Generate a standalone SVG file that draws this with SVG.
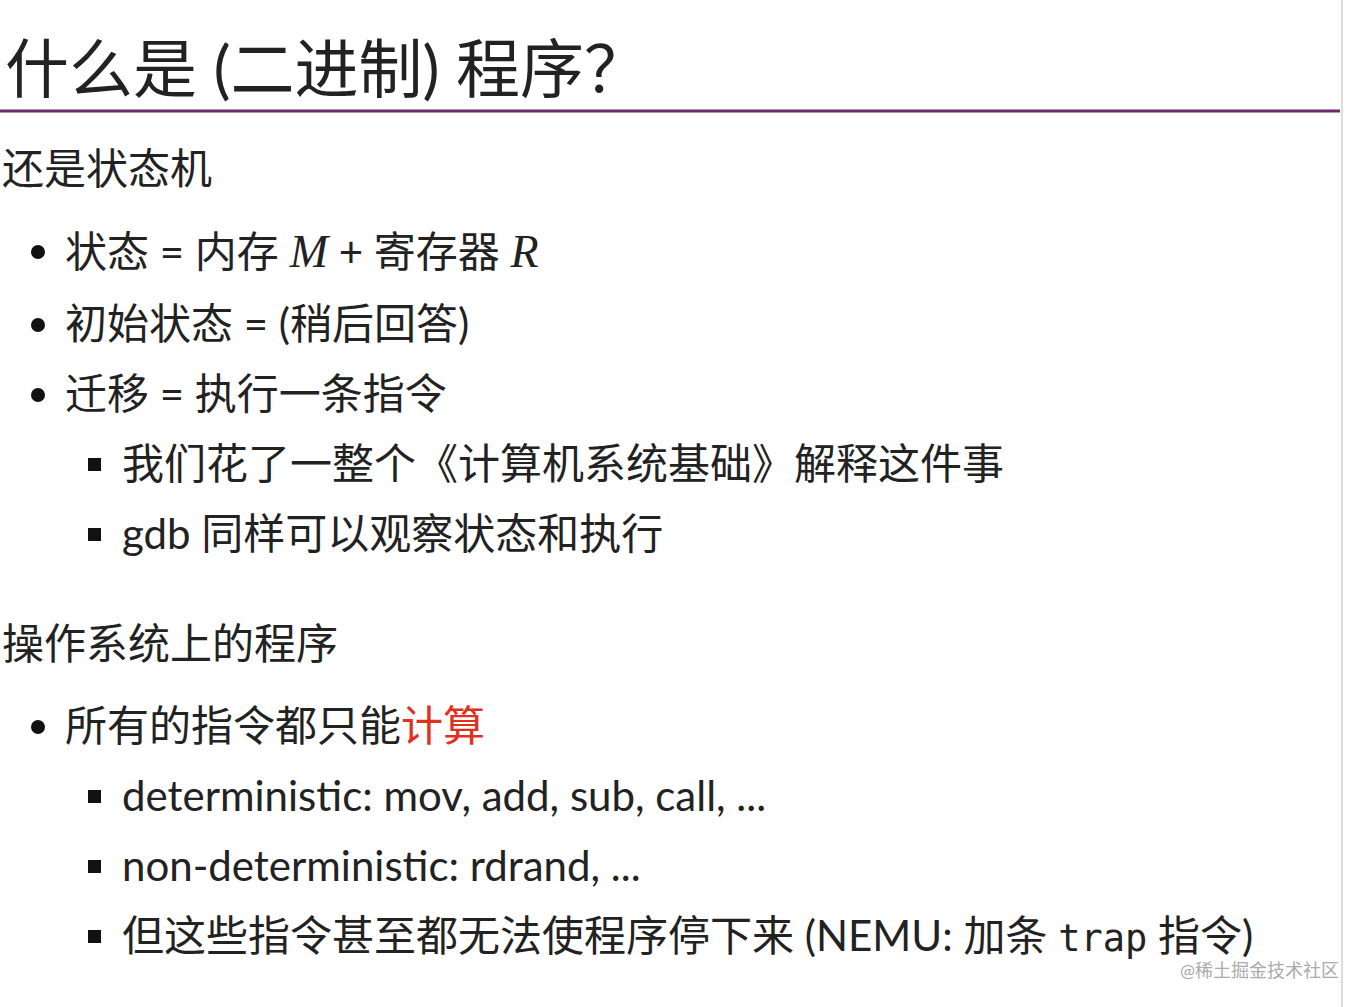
<svg xmlns="http://www.w3.org/2000/svg" width="1368" height="1007" viewBox="0 0 1368 1007">
<style>
text{font-family:Lato,"Noto Sans CJK SC",sans-serif;fill:#222}
.h{font-size:42px}
.b{font-size:42px}
.m{font-family:"Liberation Serif",serif;font-style:italic;font-size:46px}
.mono{font-family:"DejaVu Sans Mono",monospace;font-size:37px}
</style>
<rect width="1368" height="1007" fill="#fff"/>
<line x1="1342" y1="0" x2="1342" y2="1007" stroke="#ddd" stroke-width="2"/>
<text x="5" y="92" font-size="64">什么是 (二进制) 程序？</text>
<line x1="0" y1="111" x2="1340" y2="111" stroke="#6b2a6b" stroke-width="3"/>
<text class="h" x="2" y="184">还是状态机</text>
<g fill="#111">
<circle cx="38" cy="252" r="7"/><circle cx="38" cy="325" r="7"/><circle cx="38" cy="395" r="7"/>
<rect x="88" y="458" width="13" height="13"/><rect x="88" y="528" width="13" height="13"/>
<circle cx="38" cy="727" r="7"/>
<rect x="88" y="790" width="13" height="13"/><rect x="88" y="860" width="13" height="13"/><rect x="88" y="930" width="13" height="13"/>
</g>
<text class="b" x="65" y="267">状态 = 内存 <tspan class="m">M</tspan> + 寄存器 <tspan class="m">R</tspan></text>
<text class="b" x="65" y="339">初始状态 = (稍后回答)</text>
<text class="b" x="65" y="409">迁移 = 执行一条指令</text>
<text class="b" x="122" y="479">我们花了一整个《计算机系统基础》解释这件事</text>
<text class="b" x="122" y="549">gdb 同样可以观察状态和执行</text>
<text class="h" x="2" y="659">操作系统上的程序</text>
<text class="b" x="65" y="741">所有的指令都只能<tspan style="fill:#e0301e">计算</tspan></text>
<text class="b" x="122" y="811">deterministic: mov, add, sub, call, ...</text>
<text class="b" x="122" y="881">non-deterministic: rdrand, ...</text>
<text class="b" x="122" y="951">但这些指令甚至都无法使程序停下来 (NEMU: 加条 <tspan class="mono">trap</tspan> 指令)</text>
<text x="1180" y="977" font-size="18" style="fill:#aaa">@稀土掘金技术社区</text>
</svg>
